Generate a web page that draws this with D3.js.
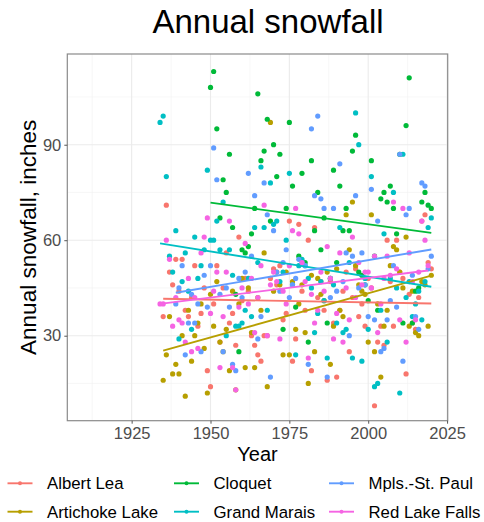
<!DOCTYPE html>
<html>
<head>
<meta charset="utf-8">
<script src="https://cdn.jsdelivr.net/npm/d3@7"></script>
<style>
  html, body { margin: 0; padding: 0; background: #fff; }
  svg { display: block; font-family: "Liberation Sans", Arial, sans-serif; }
</style>
</head>
<body>
<div id="chart"></div>
<script>
// Stations, in legend order
const stations = ['Albert Lea', 'Artichoke Lake', 'Cloquet', 'Grand Marais', 'Mpls.-St. Paul', 'Red Lake Falls'];
const colors = ['#F8766D', '#B79F00', '#00BA38', '#00BFC4', '#619CFF', '#F564E3'];
const firstYears = [1935, 1935, 1950, 1934, 1939, 1934];

// Annual snowfall (inches), one value per year starting at firstYears[i]
const albertLea = [36, 71, 50, 46, 54, 44, 54, 38, 36, 42, 52, 33, 37, 45, 19, 14, 40, 52, 28, 45,
  56, 34, 37, 27, 61, 41, 48, 44, 30, 27, 24, 22, 30, 30, 48, 51, 46, 52, 35, 37,
  66, 22, 29, 65, 44, 38, 60, 19, 64, 42, 47, 38, 16, 47, 34, 17, 38, 44, 50, 25,
  42, 51, 36, 40, 33, 48, 45, 8, 28, 33, 27, 60, 47, 33, 60, 50, 48, 18, 43, 34,
  32, 42, 66, 68, 53, 51];
const artichokeLake = [16, 24, 36, 18, 21, 18, 30, 11, 38, 22, 30, 34, 40, 26, 12, 43, 33, 47, 28, 25,
  32, 19, 44, 13, 40, 48, 20, 45, 31, 20, 42, 38, 56, 14, 97, 44, 50, 46, 24, 50,
  24, 47, 32, 40, 46, 31, 15, 49, 25, 48, 43, 41, 50, 21, 33, 51, 38, 36, 68, 57,
  72, 52, 46, 44, 43, 28, 68, 25, 40, 17, 33, 38, 52, 58, 57, 50, 45, 61, 33, 44,
  31, 30, 47, 46, 33, 49];
const cloquet = [108, 113, 95, 67, 79, 75, 87, 64, 43, 25, 57, 56, 58, 62, 70, 106, 85, 88, 98, 66,
  90, 80, 87, 32, 70, 97, 77, 39, 55, 81, 53, 28, 85, 63, 75, 57, 67, 34, 48, 82,
  53, 77, 63, 70, 63, 88, 93, 50, 49, 46, 41, 85, 55, 38, 73, 75, 72, 77, 70, 62,
  87, 34, 96, 111, 34, 44, 45, 72, 75, 71, 70];
const grandMarais = [97, 99, 80, 55, 50, 63, 29, 47, 56, 44, 32, 61, 48, 52, 57, 82, 60, 60, 66, 57,
  72, 30, 57, 49, 33, 33, 34, 38, 48, 36, 64, 53, 83, 64, 38, 78, 65, 66, 47, 50,
  60, 81, 46, 24, 52, 54, 52, 48, 45, 31, 37, 47, 41, 23, 48, 46, 34, 64, 31, 32,
  53, 23, 100, 90, 22, 48, 32, 80, 14, 15, 38, 62, 28, 48, 75, 45, 12, 87, 42, 47,
  36, 40, 44, 35, 47, 64, 67];
const mplsStPaul = [40, 45, 52, 24, 34, 43, 34, 40, 25, 49, 39, 52, 89, 79, 43, 25, 45, 39, 21, 19,
  48, 42, 50, 81, 55, 74, 29, 36, 78, 68, 17, 63, 50, 44, 53, 57, 42, 46, 48, 54,
  53, 52, 21, 95, 74, 99, 73, 70, 17, 42, 70, 44, 84, 47, 56, 30, 55, 74, 45, 56,
  46, 36, 76, 35, 66, 25, 26, 35, 41, 52, 39, 87, 22, 68, 70, 49, 36, 32, 78, 77,
  51, 55];
const redLakeFalls = [40, 40, 60, 54, 33, 42, 35, 34, 28, 48, 25, 42, 26, 56, 61, 67, 37, 44, 50, 20,
  36, 50, 66, 20, 13, 39, 45, 59, 40, 48, 31, 42, 52, 71, 30, 46, 50, 47, 29, 44,
  40, 52, 63, 70, 62, 53, 47, 23, 43, 34, 38, 50, 44, 58, 48, 29, 37, 56, 28, 45,
  35, 61, 42, 53, 46, 50, 50, 45, 55, 31, 40, 48, 55, 49, 72, 51, 35, 70, 28, 56,
  47, 35, 50, 66, 60, 52];
const snowfall = [albertLea, artichokeLake, cloquet, grandMarais, mplsStPaul, redLakeFalls];

// Linear trend lines, read at their two ends
const trendYears = [[1935, 2020], [1935, 2020], [1950, 2020], [1934, 2020], [1939, 2020], [1934, 2019]];
const trendValues = [[41.6, 40.1], [25.3, 48.9], [71.8, 62.3], [59.0, 45.4], [43.5, 57.1], [40.0, 50.5]];

const xTicks = [1925, 1950, 1975, 2000, 2025];
const yTicks = [30, 60, 90];

// 1. Setup SVG
const width = 484, height = 522;
const panel = { left: 67.3, right: 447.7, top: 54, bottom: 420.7 };

const svg = d3.select('#chart').append('svg')
  .attr('width', width)
  .attr('height', height);

// 2. Scales
const x = d3.scaleLinear().domain([1904.6, 2025.2]).range([panel.left, panel.right]);
const y = d3.scaleLinear().domain([3.3, 118.5]).range([panel.bottom, panel.top]);

// 3. Grid (major + minor, theme_bw style)
const xMinor = xTicks.slice(0, -1).map(d => d - 12.5).concat([2012.5]);
const yMinor = [15, 45, 75, 105];
const grid = svg.append('g');
grid.selectAll('.xminor').data(xMinor).join('line')
  .attr('x1', d => x(d)).attr('x2', d => x(d))
  .attr('y1', panel.top).attr('y2', panel.bottom)
  .attr('stroke', '#f2f2f2').attr('stroke-width', 0.6);
grid.selectAll('.yminor').data(yMinor).join('line')
  .attr('y1', d => y(d)).attr('y2', d => y(d))
  .attr('x1', panel.left).attr('x2', panel.right)
  .attr('stroke', '#f2f2f2').attr('stroke-width', 0.6);
grid.selectAll('.xmajor').data(xTicks).join('line')
  .attr('x1', d => x(d)).attr('x2', d => x(d))
  .attr('y1', panel.top).attr('y2', panel.bottom)
  .attr('stroke', '#ebebeb').attr('stroke-width', 1.1);
grid.selectAll('.ymajor').data(yTicks).join('line')
  .attr('y1', d => y(d)).attr('y2', d => y(d))
  .attr('x1', panel.left).attr('x2', panel.right)
  .attr('stroke', '#ebebeb').attr('stroke-width', 1.1);

// 4. Points
const plot = svg.append('g');
stations.forEach((name, i) => {
  const pts = snowfall[i].map((v, k) => ({ year: firstYears[i] + k, value: v }));
  plot.append('g').selectAll('circle')
    .data(pts)
    .join('circle')
    .attr('cx', d => x(d.year))
    .attr('cy', d => y(d.value))
    .attr('r', 2.6)
    .attr('fill', colors[i]);
});

// 5. Trend lines
stations.forEach((name, i) => {
  plot.append('line')
    .attr('x1', x(trendYears[i][0])).attr('y1', y(trendValues[i][0]))
    .attr('x2', x(trendYears[i][1])).attr('y2', y(trendValues[i][1]))
    .attr('stroke', colors[i])
    .attr('stroke-width', 1.9);
});

// 6. Panel border
svg.append('rect')
  .attr('x', panel.left).attr('y', panel.top)
  .attr('width', panel.right - panel.left).attr('height', panel.bottom - panel.top)
  .attr('fill', 'none').attr('stroke', '#8a8a8a').attr('stroke-width', 1.2);

// 7. Axes
svg.append('g')
  .attr('transform', `translate(0,${panel.bottom})`)
  .call(d3.axisBottom(x).tickValues(xTicks).tickSize(3).tickPadding(4).tickFormat(d3.format('d')))
  .call(g => g.select('.domain').remove())
  .call(g => g.selectAll('line').attr('stroke', '#555'))
  .call(g => g.selectAll('text').attr('fill', '#4d4d4d').attr('font-size', 16.5)
    .attr('font-family', '"Liberation Sans", Arial, sans-serif'));

svg.append('g')
  .attr('transform', `translate(${panel.left},0)`)
  .call(d3.axisLeft(y).tickValues(yTicks).tickSize(3).tickPadding(3))
  .call(g => g.select('.domain').remove())
  .call(g => g.selectAll('line').attr('stroke', '#555'))
  .call(g => g.selectAll('text').attr('fill', '#4d4d4d').attr('font-size', 16.5)
    .attr('font-family', '"Liberation Sans", Arial, sans-serif'));

// 8. Titles
svg.append('text')
  .attr('x', 268).attr('y', 33)
  .attr('text-anchor', 'middle')
  .attr('font-size', 33)
  .attr('fill', '#000')
  .text('Annual snowfall');

svg.append('text')
  .attr('transform', `translate(36,${(panel.top + panel.bottom) / 2}) rotate(-90)`)
  .attr('text-anchor', 'middle')
  .attr('font-size', 22.5)
  .attr('fill', '#000')
  .text('Annual snowfall, inches');

svg.append('text')
  .attr('x', (panel.left + panel.right) / 2).attr('y', 461)
  .attr('text-anchor', 'middle')
  .attr('font-size', 20)
  .attr('fill', '#000')
  .text('Year');

// 9. Legend (3 columns, 2 rows, filled by column)
const colX = [7.5, 174, 329];
const rowY = [483.3, 511.7];
const legend = svg.append('g');
stations.forEach((name, i) => {
  const cx = colX[Math.floor(i / 2)];
  const cy = rowY[i % 2];
  const item = legend.append('g').attr('transform', `translate(${cx},${cy})`);
  item.append('line')
    .attr('x1', 0).attr('x2', 25).attr('y1', 0).attr('y2', 0)
    .attr('stroke', colors[i]).attr('stroke-width', 1.9);
  item.append('circle')
    .attr('cx', 12.5).attr('cy', 0).attr('r', 2)
    .attr('fill', colors[i]);
  item.append('text')
    .attr('x', 39.5).attr('y', 6)
    .attr('font-size', 16.8)
    .attr('fill', '#000')
    .text(name);
});
</script>
</body>
</html>
